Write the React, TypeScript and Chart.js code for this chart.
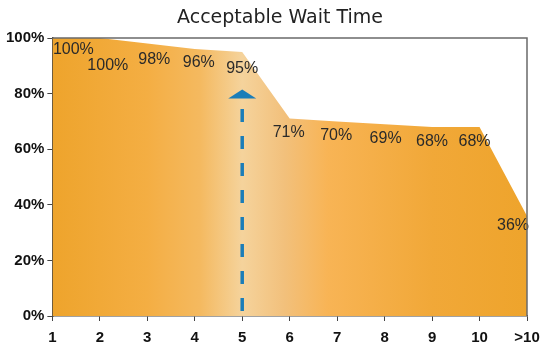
import { useEffect, useRef } from "react";
import { Chart, registerables } from "chart.js";

Chart.register(...registerables);

// Minutes a caller is willing to wait, and the share who still find it acceptable (%)
const waitMinutes = ["1", "2", "3", "4", "5", "6", "7", "8", "9", "10", ">10"];
const acceptableShare = [100, 100, 98, 96, 95, 71, 70, 69, 68, 68, 36];
const yTickValues = [0, 20, 40, 60, 80, 100];
const chartTitle = "Acceptable Wait Time";

// Dashed marker pointing up at the 5-minute mark
const markerCategory = "5";
const markerReach = 81.5;

// Per-point label nudges [dx, dy] in pixels so the labels don't collide
const labelNudge: [number, number][] = [
  [21, 12], [8, 28], [7, 16], [4, 13], [0, 17], [-1, 14],
  [-1, 14], [1, 14], [0, 15], [-5, 15], [-14, 10],
];

const titleText = {
  id: "titleText",
  afterDraw(chart: any) {
    const { ctx } = chart;
    ctx.save();
    ctx.font = "19px 'DejaVu Sans', sans-serif";
    ctx.fillStyle = "#222";
    ctx.textAlign = "center";
    ctx.textBaseline = "middle";
    ctx.fillText(chartTitle, 280, 18);
    ctx.restore();
  },
};

const valueLabels = {
  id: "valueLabels",
  afterDatasetsDraw(chart: any) {
    const { ctx } = chart;
    const meta = chart.getDatasetMeta(0);
    ctx.save();
    ctx.font = "16px 'Liberation Sans', Arial, sans-serif";
    ctx.fillStyle = "#2a2a2a";
    ctx.textAlign = "center";
    ctx.textBaseline = "middle";
    meta.data.forEach((pt: any, i: number) => {
      const [dx, dy] = labelNudge[i] || [0, 14];
      ctx.fillText(`${acceptableShare[i]}%`, pt.x + dx, pt.y + dy);
    });
    ctx.restore();
  },
};

const markerArrow = {
  id: "markerArrow",
  afterDatasetsDraw(chart: any) {
    const { ctx, scales } = chart;
    const x = scales.x.getPixelForValue(waitMinutes.indexOf(markerCategory));
    const yBottom = scales.y.getPixelForValue(0) - 5;
    const tipY = scales.y.getPixelForValue(markerReach);
    const baseY = tipY + 9;
    ctx.save();
    ctx.strokeStyle = "#1b7db8";
    ctx.fillStyle = "#1b7db8";
    ctx.lineWidth = 3.5;
    ctx.setLineDash([13, 14]);
    ctx.beginPath();
    ctx.moveTo(x, yBottom);
    ctx.lineTo(x, baseY + 4);
    ctx.stroke();
    ctx.setLineDash([]);
    ctx.beginPath();
    ctx.moveTo(x, tipY);
    ctx.lineTo(x + 14, baseY);
    ctx.lineTo(x - 14, baseY);
    ctx.closePath();
    ctx.fill();
    ctx.restore();
  },
};

const frame = {
  id: "frame",
  afterDraw(chart: any) {
    const { ctx, chartArea } = chart;
    ctx.save();
    ctx.strokeStyle = "#6a6a6a";
    ctx.lineWidth = 1.5;
    ctx.beginPath();
    ctx.moveTo(chartArea.left, chartArea.top);
    ctx.lineTo(chartArea.right, chartArea.top);
    ctx.lineTo(chartArea.right, chartArea.bottom);
    ctx.stroke();
    ctx.restore();
  },
};

function areaGradient(context: any) {
  const { chart } = context;
  const area = chart.chartArea;
  if (!area) return "#efa52e";
  const g = chart.ctx.createLinearGradient(area.left, 0, area.right, 0);
  g.addColorStop(0, "#eea42c");
  g.addColorStop(0.2, "#f4ae43");
  g.addColorStop(0.31, "#f4b95f");
  g.addColorStop(0.4, "#f5d39c");
  g.addColorStop(0.49, "#f2c07b");
  g.addColorStop(0.58, "#f8b455");
  g.addColorStop(0.8, "#f1a838");
  g.addColorStop(1, "#eea42c");
  return g;
}

export default function App() {
  const canvasRef = useRef<HTMLCanvasElement>(null);

  useEffect(() => {
    const canvas = canvasRef.current;
    if (!canvas) return;
    const axisFont = { family: "'Liberation Sans', Arial, sans-serif", size: 15, weight: "bold" as const };
    const chart = new Chart(canvas, {
      type: "line",
      data: {
        labels: waitMinutes,
        datasets: [
          {
            data: acceptableShare,
            fill: "origin",
            backgroundColor: areaGradient,
            borderWidth: 0,
            pointRadius: 0,
            tension: 0,
          },
        ],
      },
      options: {
        responsive: false,
        animation: false,
        events: [],
        layout: { padding: { left: 3, right: 16, top: 38, bottom: 0 } },
        plugins: {
          legend: { display: false },
          tooltip: { enabled: false },
          title: { display: false },
        },
        scales: {
          x: {
            type: "category",
            offset: false,
            afterFit: (scale: any) => {
              scale.height = 32;
              scale.paddingLeft = 0;
              scale.paddingRight = 0;
            },
            grid: { display: true, drawOnChartArea: false, drawTicks: true, tickLength: 5, color: "#444", offset: false },
            border: { display: true, color: "#444", width: 1.5 },
            ticks: { color: "#111", font: { ...axisFont, size: 15 }, padding: 8, maxRotation: 0, autoSkip: false },
          },
          y: {
            min: 0,
            max: 100,
            afterBuildTicks: (scale: any) => {
              scale.ticks = yTickValues.map((v) => ({ value: v }));
            },
            grid: { display: true, drawOnChartArea: false, drawTicks: true, tickLength: 5, color: "#444" },
            border: { display: true, color: "#444", width: 1.5 },
            ticks: {
              color: "#111",
              font: axisFont,
              padding: 3,
              callback: (v: any) => `${v}%`,
            },
          },
        },
      },
      plugins: [valueLabels, markerArrow, frame, titleText],
    });
    return () => chart.destroy();
  }, []);

  return (
    <div style={{ position: "fixed", left: 0, top: 0, width: 543, height: 348, background: "#fff" }}>
      <canvas ref={canvasRef} width={543} height={348} />
    </div>
  );
}
